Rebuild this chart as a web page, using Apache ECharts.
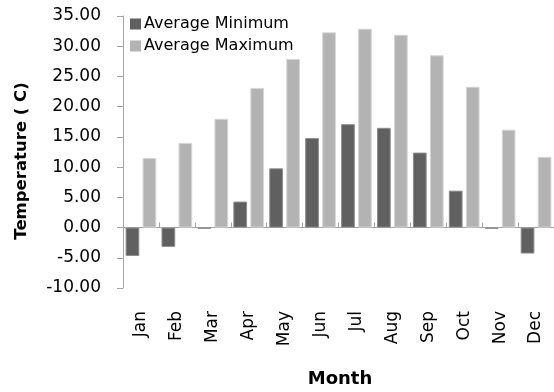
<!DOCTYPE html>
<html>
<head>
<meta charset="utf-8">
<script src="https://cdn.jsdelivr.net/npm/echarts@6/dist/echarts.min.js"></script>
<style>
  html, body { margin: 0; padding: 0; background: #fff; }
  #chart { width: 554px; height: 392px; }
</style>
</head>
<body>
<div id="chart"></div>
<script>
// Monthly temperature averages (°C)
const months = ['Jan', 'Feb', 'Mar', 'Apr', 'May', 'Jun', 'Jul', 'Aug', 'Sep', 'Oct', 'Nov', 'Dec'];
const avgMinimum = [-4.7, -3.2, -0.2, 4.3, 9.8, 14.8, 17.1, 16.5, 12.4, 6.1, -0.2, -4.3];
const avgMaximum = [11.5, 14.0, 18.0, 23.1, 27.9, 32.3, 32.9, 31.9, 28.5, 23.3, 16.2, 11.7];
const seriesNames = ['Average Minimum', 'Average Maximum'];

const FONT = 'DejaVu Sans';
const AXIS_GREY = '#a3a3a3';

const chart = echarts.init(document.getElementById('chart'), null, { renderer: 'canvas' });

chart.setOption({
  animation: false,
  backgroundColor: '#ffffff',
  textStyle: { fontFamily: FONT },
  grid: { left: 123, right: 0, top: 16, bottom: 104, containLabel: false },
  legend: {
    orient: 'vertical',
    left: 125,
    top: 11,
    itemWidth: 11,
    itemHeight: 11,
    itemGap: 6,
    icon: 'rect',
    itemStyle: { borderWidth: 0 },
    textStyle: { fontFamily: FONT, fontSize: 16, color: '#000', lineHeight: 16, padding: [0, 0, 0, -2] },
    data: seriesNames
  },
  xAxis: [
    {
      // baseline through zero, with tick marks between months
      type: 'category',
      data: months,
      position: 'top',
      axisLine: { show: true, onZero: true, lineStyle: { color: AXIS_GREY, width: 1 } },
      axisTick: { show: true, length: 5, lineStyle: { color: AXIS_GREY } },
      axisLabel: { show: false },
      splitLine: { show: false }
    },
    {
      // month labels along the bottom edge
      type: 'category',
      data: months,
      position: 'bottom',
      axisLine: { show: false, onZero: false },
      axisTick: { show: false },
      axisLabel: {
        show: true,
        rotate: 90,
        margin: 23,
        fontFamily: FONT,
        fontSize: 17,
        color: '#000'
      },
      splitLine: { show: false }
    }
  ],
  yAxis: {
    type: 'value',
    min: -10,
    max: 35,
    interval: 5,
    axisLine: { show: true, lineStyle: { color: AXIS_GREY, width: 1 } },
    axisTick: { show: true, length: 6, lineStyle: { color: AXIS_GREY } },
    axisLabel: {
      margin: 22,
      fontFamily: FONT,
      fontSize: 17,
      color: '#000',
      formatter: v => v.toFixed(2)
    },
    splitLine: { show: false }
  },
  series: [
    {
      name: seriesNames[0],
      type: 'bar',
      xAxisIndex: 0,
      data: avgMinimum,
      itemStyle: { color: '#606060', borderColor: '#8c8c8c', borderWidth: 1 },
      barGap: '24%',
      barCategoryGap: '14.5%'
    },
    {
      name: seriesNames[1],
      type: 'bar',
      xAxisIndex: 0,
      data: avgMaximum,
      itemStyle: { color: '#b3b3b3', borderColor: '#d6d6d6', borderWidth: 1 },
      barGap: '24%',
      barCategoryGap: '14.5%'
    }
  ],
  graphic: [
    {
      type: 'text',
      x: 22,
      y: 161,
      rotation: Math.PI / 2,
      style: {
        text: 'Temperature ( C)',
        fontFamily: FONT,
        fontSize: 16.5,
        fontWeight: 'bold',
        fill: '#000',
        textAlign: 'center',
        textVerticalAlign: 'middle'
      }
    },
    {
      type: 'text',
      x: 340,
      y: 379,
      style: {
        text: 'Month',
        fontFamily: FONT,
        fontSize: 18,
        fontWeight: 'bold',
        fill: '#000',
        textAlign: 'center',
        textVerticalAlign: 'middle'
      }
    }
  ]
});
</script>
</body>
</html>
